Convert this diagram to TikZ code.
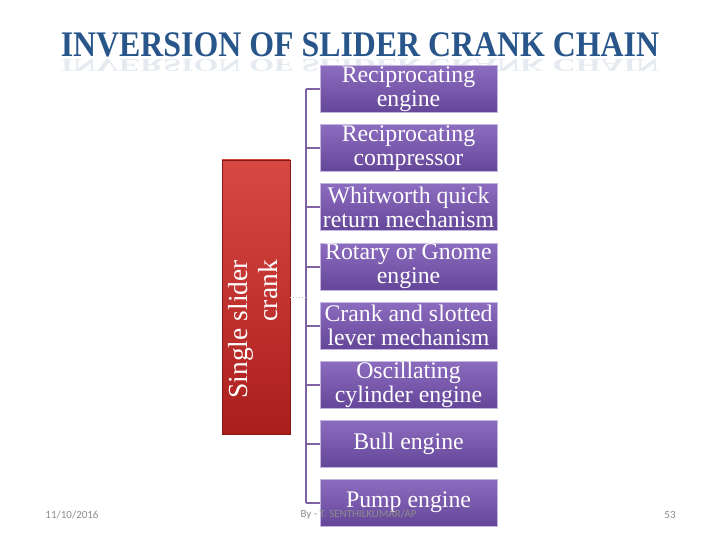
\documentclass[tikz,border=0pt]{standalone}
\usepackage{fontspec}
\setmainfont{Liberation Serif}
\newfontfamily\footfont{Carlito}
\usetikzlibrary{shapes.geometric, arrows, positioning}

\definecolor{boxtop}{RGB}{140,108,190}
\definecolor{boxbot}{RGB}{100,70,152}
\definecolor{boxedge}{RGB}{196,182,224}
\definecolor{hubtop}{RGB}{216,72,66}
\definecolor{hubbot}{RGB}{170,30,28}
\definecolor{spinecol}{RGB}{128,100,162}
\definecolor{titleblue}{RGB}{40,86,138}
\definecolor{footgray}{RGB}{140,140,140}

\tikzstyle{leaf} = [
    rectangle,
    minimum width=177pt,
    minimum height=47pt,
    top color=boxtop,
    bottom color=boxbot,
    draw=boxedge,
    line width=1pt,
    inner sep=0pt,
    align=center,
    text=white,
    font=\fontsize{23.8}{24}\selectfont
]
\tikzstyle{hub} = [
    rectangle,
    minimum width=68pt,
    minimum height=274pt,
    top color=hubtop,
    bottom color=hubbot,
    draw=hubbot!80!black,
    line width=0.8pt
]
\tikzstyle{hubtext} = [
    rotate=90,
    align=right,
    inner sep=0pt,
    text=white,
    font=\fontsize{27.5}{30}\selectfont
]
\tikzstyle{link} = [draw=spinecol, line width=2pt]
\tikzstyle{foot} = [text=footgray, font=\footfont\fontsize{11}{13}\selectfont]

\begin{document}
\begin{tikzpicture}[x=1pt, y=-1pt, node distance=59pt]
\useasboundingbox (0,0) rectangle (720,540);

% title with its faint reflection
\node (titleshadow) [anchor=base, yscale=-0.5, xscale=0.885, opacity=0.12,
    text=titleblue, font=\bfseries\fontsize{36}{40}\selectfont] at (360,60)
{INVERSION OF SLIDER CRANK CHAIN};
\node (title) [anchor=base, xscale=0.885, text=titleblue,
    font=\bfseries\fontsize{36}{40}\selectfont] at (360,57)
{INVERSION OF SLIDER CRANK CHAIN};

% parent
\node (parent) [hub] at (256,297) {};
\node (parentlabel) [hubtext, anchor=east] at (253,260)
{Single slider\\crank};

% children
\node (recipeng) [leaf] at (408.5,89.5) {Reciprocating\\engine};
\node (recipcomp) [leaf, below of=recipeng] {Reciprocating\\compressor};
\node (whitworth) [leaf, below of=recipcomp] {Whitworth quick\\return mechanism};
\node (gnome) [leaf, below of=whitworth] {Rotary or Gnome\\engine};
\node (slotted) [leaf, below of=gnome] {Crank and slotted\\lever mechanism};
\node (oscill) [leaf, below of=slotted] {Oscillating\\cylinder engine};
\node (bull) [leaf, below of=oscill] {Bull engine};
\node (pump) [leaf, below of=bull] {Pump engine};

% connectors
\coordinate (spine) at (306,0);
\draw [link] (spine |- recipeng) -- (spine |- pump);
\draw [link] (spine |- recipeng) -- (recipeng.west);
\draw [link] (spine |- recipcomp) -- (recipcomp.west);
\draw [link] (spine |- whitworth) -- (whitworth.west);
\draw [link] (spine |- gnome) -- (gnome.west);
\draw [link] (spine |- slotted) -- (slotted.west);
\draw [link] (spine |- oscill) -- (oscill.west);
\draw [link] (spine |- bull) -- (bull.west);
\draw [link] (spine |- pump) -- (pump.west);
\draw [dotted, line width=1pt, gray!45] (parent.east) -- (spine |- parent.east);

% footer
\node (date) [foot] at (72,515) {11/10/2016};
\node (author) [foot, anchor=west] at (297,515) {By - T. SENTHILKUMAR/AP};
\node (page) [foot] at (670,515) {53};

\end{tikzpicture}
\end{document}
